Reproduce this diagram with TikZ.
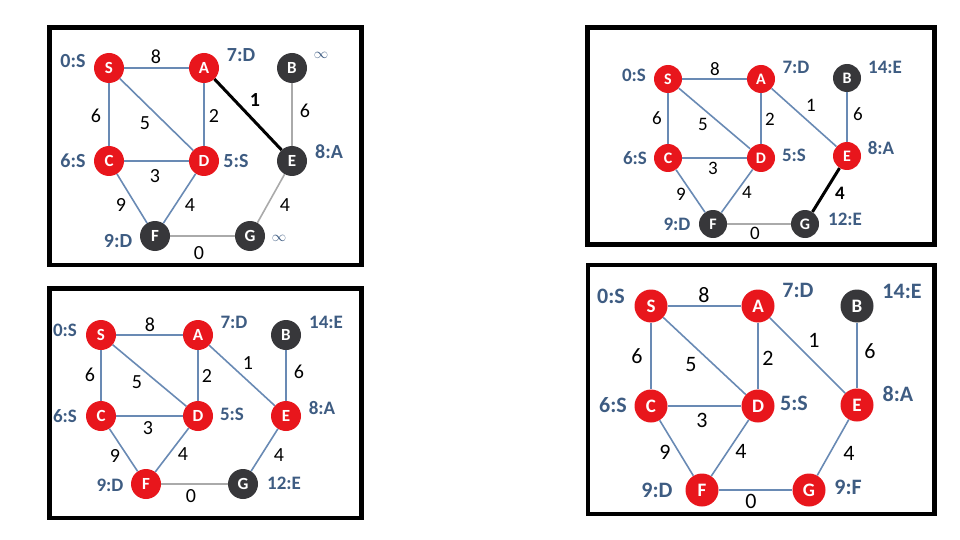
\documentclass[tikz,border=0pt]{standalone}
\usepackage{fontspec}
\setmainfont{Carlito}
\definecolor{nred}{RGB}{232,22,28}
\definecolor{ndark}{RGB}{55,55,58}
\definecolor{lblue}{RGB}{62,92,130}
\definecolor{eblue}{RGB}{105,138,180}
\definecolor{egray}{RGB}{170,170,170}
\tikzset{
  vx/.style={circle, inner sep=0pt, minimum size=\vsz, text=white, font=\bfseries\fontsize{\vfs}{\vfs}\selectfont},
  vred/.style={vx, fill=nred},
  vdark/.style={vx, fill=ndark},
  dist/.style={inner sep=0pt, text=lblue, font=\bfseries\fontsize{\lfs}{\lfs}\selectfont},
  inf/.style={inner sep=0pt, text=lblue, font=\fontsize{15}{15}\selectfont},
  wt/.style={inner sep=0pt, text=black, font=\fontsize{\wfs}{\wfs}\selectfont},
  wtb/.style={wt, font=\bfseries\fontsize{\wfs}{\wfs}\selectfont},
  eb/.style={draw=eblue, line width=1.6pt},
  eg/.style={draw=egray, line width=1.6pt},
  ek/.style={draw=black, line width=3pt},
  frame/.style={draw=black, line width=4.5pt}
}
\begin{document}
\begin{tikzpicture}[x=1pt,y=-1pt]
\useasboundingbox (0,0) rectangle (960,540);
% ---------- Panel 1 ----------
\begin{scope}
\def\vsz{30pt}\def\vfs{17}\def\lfs{20}\def\wfs{20}
\draw[frame] (49.5,27.5) rectangle (361.5,265);
\node[vred]  (S1) at (109,68) {S};
\node[vred]  (A1) at (204,68) {A};
\node[vdark] (B1) at (292,68) {B};
\node[vred]  (C1) at (109,161) {C};
\node[vred]  (D1) at (204,161) {D};
\node[vdark] (E1) at (292,161) {E};
\node[vdark] (F1) at (155,236) {F};
\node[vdark] (G1) at (250,236) {G};
\draw[eb] (S1) -- (A1);
\draw[eb] (S1) -- (C1);
\draw[eb] (S1) -- (D1);
\draw[eb] (A1) -- (D1);
\draw[eb] (C1) -- (D1);
\draw[eb] (C1) -- (F1);
\draw[eb] (D1) -- (F1);
\draw[ek] (A1) -- (E1);
\draw[eg] (B1) -- (E1);
\draw[eg] (E1) -- (G1);
\draw[eg] (F1) -- (G1);
\node[dist] (lS1) at (73,61) {0:S};
\node[dist] (lA1) at (241,55) {7:D};
\node[inf]  (lB1) at (321,55) {$\infty$};
\node[dist] (lC1) at (73,161) {6:S};
\node[dist] (lD1) at (236,161) {5:S};
\node[dist] (lE1) at (329,152) {8:A};
\node[dist] (lF1) at (118,241) {9:D};
\node[inf]  (lG1) at (279,238) {$\infty$};
\node[wt]  (w1a) at (156,57) {8};
\node[wtb] (w1b) at (255,100) {1};
\node[wt]  (w1c) at (305,111) {6};
\node[wt]  (w1d) at (96,116) {6};
\node[wt]  (w1e) at (145,123) {5};
\node[wt]  (w1f) at (214,116) {2};
\node[wt]  (w1g) at (155,176) {3};
\node[wt]  (w1h) at (121,205) {9};
\node[wt]  (w1i) at (190,205) {4};
\node[wt]  (w1j) at (285,205) {4};
\node[wt]  (w1k) at (199,253) {0};
\end{scope}
% ---------- Panel 2 ----------
\begin{scope}
\def\vsz{28pt}\def\vfs{16}\def\lfs{19}\def\wfs{19}
\draw[frame] (587.5,27.5) rectangle (934.5,244.5);
\node[vred]  (S2) at (668,79) {S};
\node[vred]  (A2) at (761,79) {A};
\node[vdark] (B2) at (847,78) {B};
\node[vred]  (C2) at (668,158) {C};
\node[vred]  (D2) at (761,158) {D};
\node[vred]  (E2) at (847,156) {E};
\node[vdark] (F2) at (713,224) {F};
\node[vdark] (G2) at (805,224) {G};
\draw[eb] (S2) -- (A2);
\draw[eb] (S2) -- (C2);
\draw[eb] (S2) -- (D2);
\draw[eb] (A2) -- (D2);
\draw[eb] (C2) -- (D2);
\draw[eb] (C2) -- (F2);
\draw[eb] (D2) -- (F2);
\draw[eb] (A2) -- (E2);
\draw[eb] (B2) -- (E2);
\draw[ek] (E2) -- (G2);
\draw[eg] (F2) -- (G2);
\node[dist] (lS2) at (634,75) {0:S};
\node[dist] (lA2) at (796,67) {7:D};
\node[dist] (lB2) at (885,67) {14:E};
\node[dist] (lC2) at (635,158) {6:S};
\node[dist] (lD2) at (794,155) {5:S};
\node[dist] (lE2) at (881,148) {8:A};
\node[dist] (lF2) at (677,224) {9:D};
\node[dist] (lG2) at (845,219) {12:E};
\node[wt]  (w2a) at (715,69) {8};
\node[wt]  (w2b) at (811,105) {1};
\node[wt]  (w2c) at (858,114) {6};
\node[wt]  (w2d) at (657,118) {6};
\node[wt]  (w2e) at (703,124) {5};
\node[wt]  (w2f) at (770,119) {2};
\node[wt]  (w2g) at (713,168) {3};
\node[wt]  (w2h) at (681,194) {9};
\node[wt]  (w2i) at (747,192) {4};
\node[wtb] (w2j) at (840,193) {4};
\node[wt]  (w2k) at (755,233) {0};
\end{scope}
% ---------- Panel 3 ----------
\begin{scope}
\def\vsz{30pt}\def\vfs{17}\def\lfs{19}\def\wfs{20}
\draw[frame] (49.3,288.3) rectangle (361.3,518);
\node[vred]  (S3) at (101,335) {S};
\node[vred]  (A3) at (198,335) {A};
\node[vdark] (B3) at (286,335) {B};
\node[vred]  (C3) at (101,416) {C};
\node[vred]  (D3) at (198,416) {D};
\node[vred]  (E3) at (286,416) {E};
\node[vred]  (F3) at (146,484) {F};
\node[vdark] (G3) at (243,484) {G};
\draw[eb] (S3) -- (A3);
\draw[eb] (S3) -- (C3);
\draw[eb] (S3) -- (D3);
\draw[eb] (A3) -- (D3);
\draw[eb] (C3) -- (D3);
\draw[eb] (C3) -- (F3);
\draw[eb] (D3) -- (F3);
\draw[eb] (A3) -- (E3);
\draw[eb] (B3) -- (E3);
\draw[eb] (E3) -- (G3);
\draw[eg] (F3) -- (G3);
\node[dist] (lS3) at (65,330) {0:S};
\node[dist] (lA3) at (234,322) {7:D};
\node[dist] (lB3) at (326,322) {14:E};
\node[dist] (lC3) at (65,416) {6:S};
\node[dist] (lD3) at (232,414) {5:S};
\node[dist] (lE3) at (322,408) {8:A};
\node[dist] (lF3) at (110,485) {9:D};
\node[dist] (lG3) at (284,483) {12:E};
\node[wt] (w3a) at (150,325) {8};
\node[wt] (w3b) at (248,363) {1};
\node[wt] (w3c) at (299,372) {6};
\node[wt] (w3d) at (90,375) {6};
\node[wt] (w3e) at (137,382) {5};
\node[wt] (w3f) at (207,376) {2};
\node[wt] (w3g) at (148,428) {3};
\node[wt] (w3h) at (115,456) {9};
\node[wt] (w3i) at (183,454) {4};
\node[wt] (w3j) at (279,455) {4};
\node[wt] (w3k) at (191,496) {0};
\end{scope}
% ---------- Panel 4 ----------
\begin{scope}
\def\vsz{33pt}\def\vfs{19}\def\lfs{22}\def\wfs{22}
\draw[frame] (588,265) rectangle (934.3,514);
\node[vred]  (S4) at (651,306) {S};
\node[vred]  (A4) at (758,306) {A};
\node[vdark] (B4) at (857,306) {B};
\node[vred]  (C4) at (651,406) {C};
\node[vred]  (D4) at (758,406) {D};
\node[vred]  (E4) at (857,405) {E};
\node[vred]  (F4) at (702,490) {F};
\node[vred]  (G4) at (809,490) {G};
\draw[eb] (S4) -- (A4);
\draw[eb] (S4) -- (C4);
\draw[eb] (S4) -- (D4);
\draw[eb] (A4) -- (D4);
\draw[eb] (C4) -- (D4);
\draw[eb] (C4) -- (F4);
\draw[eb] (D4) -- (F4);
\draw[eb] (A4) -- (E4);
\draw[eb] (B4) -- (E4);
\draw[eb] (E4) -- (G4);
\draw[eb] (F4) -- (G4);
\node[dist] (lS4) at (611,296) {0:S};
\node[dist] (lA4) at (798,290) {7:D};
\node[dist] (lB4) at (902,291) {14:E};
\node[dist] (lC4) at (613,405) {6:S};
\node[dist] (lD4) at (794,403) {5:S};
\node[dist] (lE4) at (898,394) {8:A};
\node[dist] (lF4) at (657,490) {9:D};
\node[dist] (lG4) at (848,487) {9:F};
\node[wt] (w4a) at (704,295) {8};
\node[wt] (w4b) at (814,340) {1};
\node[wt] (w4c) at (870,351) {6};
\node[wt] (w4d) at (637,356) {6};
\node[wt] (w4e) at (691,365) {5};
\node[wt] (w4f) at (768,358) {2};
\node[wt] (w4g) at (702,420) {3};
\node[wt] (w4h) at (665,452) {9};
\node[wt] (w4i) at (741,451) {4};
\node[wt] (w4j) at (849,453) {4};
\node[wt] (w4k) at (751,501) {0};
\end{scope}
\end{tikzpicture}
\end{document}
